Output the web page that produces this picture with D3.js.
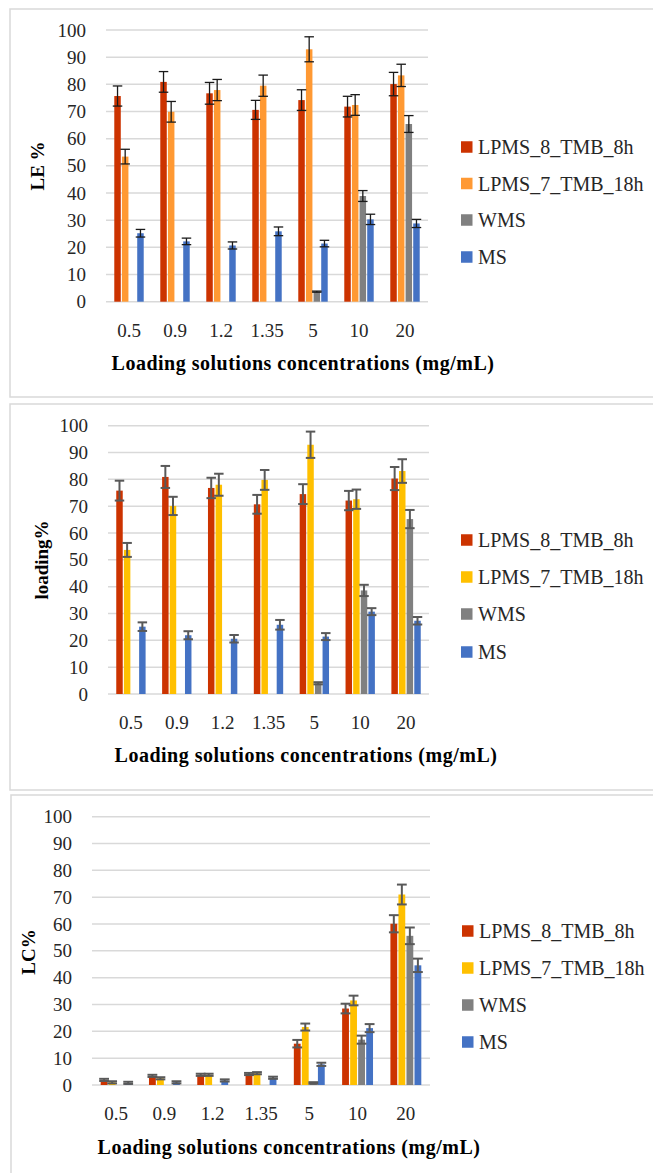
<!DOCTYPE html>
<html>
<head>
<meta charset="utf-8">
<script src="https://cdn.jsdelivr.net/npm/d3@7"></script>
<style>
  body { margin: 0; background: #fff; }
  svg { display: block; }
  .tick text { font-family: "Liberation Serif", serif; }
</style>
</head>
<body>
<div id="chart"></div>
<script>
// categories and series
var concentrations = ["0.5", "0.9", "1.2", "1.35", "5", "10", "20"];
var seriesNames = ["LPMS_8_TMB_8h", "LPMS_7_TMB_18h", "WMS", "MS"];
var yTicks = [0, 10, 20, 30, 40, 50, 60, 70, 80, 90, 100];
var xTitle = "Loading solutions concentrations (mg/mL)";

// LE % panel
var le8h      = [75.7, 80.9, 76.7, 70.6, 74.2, 71.8, 80.1];
var le8hErr   = [3.7, 3.8, 4.0, 3.5, 3.8, 3.8, 4.3];
var le18h     = [53.4, 69.9, 77.9, 79.5, 92.9, 72.4, 83.3];
var le18hErr  = [2.7, 3.8, 3.9, 3.9, 4.6, 3.8, 4.1];
var leWMS     = [null, null, null, null, 3.7, 38.9, 65.4];
var leWMSErr  = [null, null, null, null, 0.2, 2.0, 3.1];
var leMS      = [25.2, 22.2, 20.7, 25.9, 21.4, 30.3, 28.8];
var leMSErr   = [1.4, 1.2, 1.3, 1.6, 1.2, 1.9, 1.5];

// loading% panel
var ld8h      = [75.8, 80.9, 76.8, 70.7, 74.5, 72.1, 80.3];
var ld8hErr   = [3.7, 4.1, 3.8, 3.5, 3.7, 3.6, 4.3];
var ld18h     = [53.7, 70.1, 78.0, 79.8, 92.9, 72.6, 83.1];
var ld18hErr  = [2.6, 3.4, 4.1, 3.7, 4.9, 3.6, 4.4];
var ldWMS     = [null, null, null, null, 4.0, 38.6, 65.2];
var ldWMSErr  = [null, null, null, null, 0.4, 2.1, 3.4];
var ldMS      = [25.1, 21.9, 20.6, 25.8, 21.4, 30.7, 27.3];
var ldMSErr   = [1.6, 1.5, 1.4, 1.8, 1.3, 1.3, 1.4];

// LC% panel
var lc8h      = [1.9, 3.4, 3.8, 4.1, 15.4, 28.5, 60.1];
var lc8hErr   = [0.4, 0.4, 0.4, 0.4, 1.4, 1.8, 3.2];
var lc18h     = [1.0, 2.5, 3.8, 4.4, 21.6, 31.5, 71.0];
var lc18hErr  = [0.4, 0.4, 0.4, 0.4, 1.3, 1.8, 3.7];
var lcWMS     = [null, null, null, null, 0.75, 16.9, 55.6];
var lcWMSErr  = [null, null, null, null, 0.3, 1.5, 3.1];
var lcMS      = [0.8, 1.0, 1.7, 2.7, 7.7, 21.2, 44.6];
var lcMSErr   = [0.4, 0.4, 0.4, 0.4, 0.6, 1.5, 2.5];

var W = 653, H = 1173;
var svg = d3.select("#chart").append("svg")
            .attr("width", W)
            .attr("height", H);

var panels = [
    {yTitle: "LE %", means: [le8h, le18h, leWMS, leMS], errs: [le8hErr, le18hErr, leWMSErr, leMSErr],
     colors: ["#cc3300", "#ff9933", "#808080", "#4472c4"], errColor: "#1a1a1a", errWidth: 1.3,
     box: [10, 9, 700, 388], plot: {left: 106, right: 428, top: 30, bottom: 301.7},
     yTitleX: 37.5, yTitleY: 166, xTitleX: 303, xTitleY: 363, legendX: 461, legendY: [147, 183.5, 220, 257]},
    {yTitle: "loading%", means: [ld8h, ld18h, ldWMS, ldMS], errs: [ld8hErr, ld18hErr, ldWMSErr, ldMSErr],
     colors: ["#cc3300", "#ffc000", "#808080", "#4472c4"], errColor: "#595959", errWidth: 2,
     box: [10, 404, 700, 386], plot: {left: 108, right: 429, top: 425.7, bottom: 694},
     yTitleX: 41, yTitleY: 560, xTitleX: 306, xTitleY: 755, legendX: 461, legendY: [540, 577, 614, 652]},
    {yTitle: "LC%", means: [lc8h, lc18h, lcWMS, lcMS], errs: [lc8hErr, lc18hErr, lcWMSErr, lcMSErr],
     colors: ["#cc3300", "#ffc000", "#808080", "#4472c4"], errColor: "#595959", errWidth: 2,
     box: [11, 795, 700, 420], plot: {left: 92, right: 430, top: 816.7, bottom: 1085},
     yTitleX: 28, yTitleY: 952, xTitleX: 289, xTitleY: 1147, legendX: 462, legendY: [931, 968, 1005, 1042]}
];

function drawPanel(p) {
    var g = svg.append("g");

    g.append("rect")
     .attr("x", p.box[0]).attr("y", p.box[1])
     .attr("width", p.box[2]).attr("height", p.box[3])
     .style("fill", "none")
     .style("stroke", "#d9d9d9")
     .style("stroke-width", 1.5);

    var x0 = d3.scaleBand()
               .domain(concentrations)
               .range([p.plot.left, p.plot.right])
               .paddingInner(0.36)
               .paddingOuter(0.18);

    var x1 = d3.scaleBand()
               .domain(d3.range(seriesNames.length))
               .range([0, x0.bandwidth()])
               .paddingInner(0.15);

    var y = d3.scaleLinear()
              .domain([0, 100])
              .range([p.plot.bottom, p.plot.top]);

    // gridlines
    g.selectAll(".grid")
     .data(yTicks)
     .enter().append("line")
     .attr("x1", p.plot.left).attr("x2", p.plot.right)
     .attr("y1", function(d) { return y(d); })
     .attr("y2", function(d) { return y(d); })
     .style("stroke", "#d9d9d9")
     .style("stroke-width", 1.5);

    // y axis labels
    var yAxis = g.append("g")
                 .attr("transform", "translate(" + p.plot.left + ",0)")
                 .call(d3.axisLeft(y).tickValues(yTicks).tickSize(0).tickPadding(20));
    yAxis.select(".domain").remove();
    yAxis.selectAll("text")
         .style("font-size", "19px")
         .style("fill", "#262626");

    // x axis labels
    var xAxis = g.append("g")
                 .attr("transform", "translate(0," + p.plot.bottom + ")")
                 .call(d3.axisBottom(x0).tickSize(0).tickPadding(22));
    xAxis.select(".domain").remove();
    xAxis.selectAll("text")
         .style("font-size", "19px")
         .style("fill", "#262626");

    // bars, one group per concentration
    var rows = concentrations.map(function(c, i) {
        return {cat: c, items: p.means.map(function(s, k) {
            return {k: k, value: s[i], err: p.errs[k][i]};
        }).filter(function(d) { return d.value !== null; })};
    });

    var groups = g.selectAll(".grp")
                  .data(rows)
                  .enter().append("g")
                  .attr("transform", function(d) { return "translate(" + x0(d.cat) + ",0)"; });

    groups.selectAll("rect")
          .data(function(d) { return d.items; })
          .enter().append("rect")
          .attr("x", function(d) { return x1(d.k); })
          .attr("width", x1.bandwidth())
          .attr("y", function(d) { return y(d.value); })
          .attr("height", function(d) { return y(0) - y(d.value); })
          .style("fill", function(d) { return p.colors[d.k]; });

    var capHalf = x1.bandwidth() / 2 + 1.5;
    var errs = groups.selectAll(".err")
                     .data(function(d) { return d.items.filter(function(e) { return e.err !== null; }); })
                     .enter().append("g")
                     .attr("transform", function(d) { return "translate(" + (x1(d.k) + x1.bandwidth() / 2) + ",0)"; })
                     .style("stroke", p.errColor)
                     .style("stroke-width", p.errWidth);
    errs.append("line")
        .attr("y1", function(d) { return y(d.value - d.err); })
        .attr("y2", function(d) { return y(d.value + d.err); });
    errs.append("line")
        .attr("x1", -capHalf).attr("x2", capHalf)
        .attr("y1", function(d) { return y(d.value + d.err); })
        .attr("y2", function(d) { return y(d.value + d.err); });
    errs.append("line")
        .attr("x1", -capHalf).attr("x2", capHalf)
        .attr("y1", function(d) { return y(Math.max(0, d.value - d.err)); })
        .attr("y2", function(d) { return y(Math.max(0, d.value - d.err)); });

    // axis titles
    g.append("text")
     .attr("transform", "translate(" + p.yTitleX + "," + p.yTitleY + ") rotate(-90)")
     .attr("text-anchor", "middle")
     .attr("dy", "0.35em")
     .style("font-family", "Liberation Serif, serif")
     .style("font-weight", "bold")
     .style("font-size", "19px")
     .text(p.yTitle);

    g.append("text")
     .attr("x", p.xTitleX)
     .attr("y", p.xTitleY)
     .attr("text-anchor", "middle")
     .attr("dy", "0.35em")
     .style("font-family", "Liberation Serif, serif")
     .style("font-weight", "bold")
     .style("font-size", "20px")
     .style("letter-spacing", "0.5px")
     .text(xTitle);

    // legend
    var leg = g.selectAll(".leg")
               .data(seriesNames)
               .enter().append("g")
               .attr("transform", function(d, i) { return "translate(" + p.legendX + "," + p.legendY[i] + ")"; });
    leg.append("rect")
       .attr("y", -5.75)
       .attr("width", 11.5)
       .attr("height", 11.5)
       .style("fill", function(d, i) { return p.colors[i]; });
    leg.append("text")
       .attr("x", 17)
       .attr("dy", "0.35em")
       .style("font-family", "Liberation Serif, serif")
       .style("font-size", "20px")
       .style("fill", "#262626")
       .text(function(d) { return d; });
}

panels.forEach(drawPanel);
</script>
</body>
</html>
